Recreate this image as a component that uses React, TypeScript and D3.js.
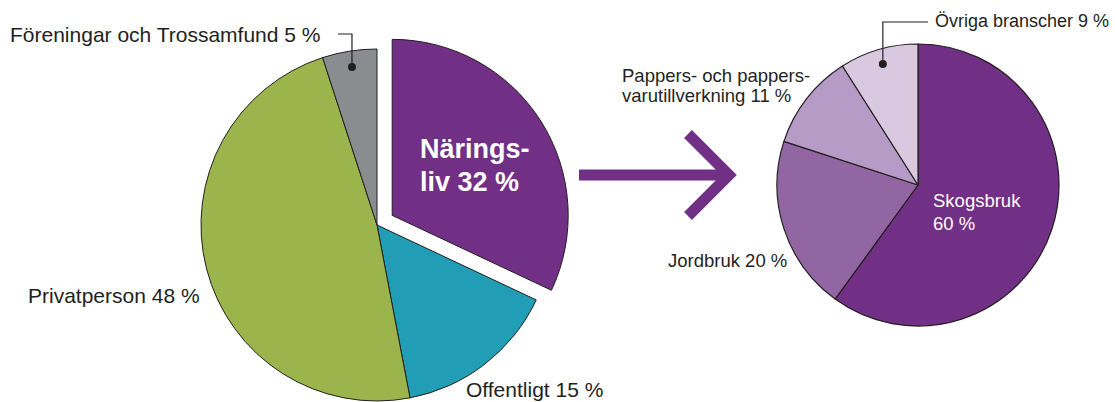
import React, { useEffect, useRef } from "react";
import * as d3 from "d3";

const width = 1115;
const height = 402;

// left pie: who owns the land
const ownerNames = ["Näringsliv", "Offentligt", "Privatperson", "Föreningar och Trossamfund"];
const ownerValues = [32, 15, 48, 5];
const ownerColors = ["#722f86", "#219db6", "#9bb44b", "#8b8c8f"];

// right pie: breakdown of Näringsliv
const branchNames = ["Skogsbruk", "Jordbruk", "Pappers- och pappersvarutillverkning", "Övriga branscher"];
const branchValues = [60, 20, 11, 9];
const branchColors = ["#722f86", "#9166a2", "#b59bc6", "#d8c9e0"];

const font = "'Liberation Sans', Arial, sans-serif";
const textColor = "#231f20";

export default function App() {
  const ref = useRef<SVGSVGElement>(null);

  useEffect(() => {
    const svg = d3.select(ref.current);
    svg.selectAll("*").remove();

    const pie = d3.pie<number>().sort(null).value(d => d);

    // ---- left pie
    const lc = { x: 377, y: 225 };
    const lr = 176;
    const left = svg.append("g").attr("transform", `translate(${lc.x},${lc.y})`);
    const lArcs = pie(ownerValues);
    const lArc = d3.arc<d3.PieArcDatum<number>>().innerRadius(0).outerRadius(lr);
    const explode = 18;

    left.selectAll("path")
      .data(lArcs)
      .join("path")
      .attr("d", lArc)
      .attr("fill", (d, i) => ownerColors[i])
      .attr("stroke", textColor)
      .attr("stroke-width", 1)
      .attr("stroke-linejoin", "round")
      .attr("transform", (d, i) => {
        if (i !== 0) return null;
        const a = (d.startAngle + d.endAngle) / 2;
        return `translate(${explode * Math.sin(a)},${-explode * Math.cos(a)})`;
      });

    // white label in exploded slice
    svg.append("text")
      .attr("x", 420).attr("y", 158)
      .attr("fill", "#fff")
      .style("font", `bold 27px ${font}`)
      .text("Närings-");
    svg.append("text")
      .attr("x", 420).attr("y", 191)
      .attr("fill", "#fff")
      .style("font", `bold 27px ${font}`)
      .text(`liv ${ownerValues[0]} %`);

    svg.append("text")
      .attr("x", 28).attr("y", 303)
      .attr("fill", textColor)
      .style("font", `21px ${font}`)
      .text(`${ownerNames[2]} ${ownerValues[2]} %`);

    svg.append("text")
      .attr("x", 466).attr("y", 397)
      .attr("fill", textColor)
      .style("font", `21px ${font}`)
      .text(`${ownerNames[1]} ${ownerValues[1]} %`);

    svg.append("text")
      .attr("x", 10).attr("y", 42)
      .attr("fill", textColor)
      .style("font", `21px ${font}`)
      .text(`${ownerNames[3]} ${ownerValues[3]} %`);

    // leader for the small grey slice
    const dotArc = d3.arc<d3.PieArcDatum<number>>().innerRadius(160).outerRadius(160);
    const [gx, gy] = dotArc.centroid(lArcs[3]);
    const gdx = lc.x + gx, gdy = lc.y + gy;
    svg.append("path")
      .attr("d", `M338,34H${gdx}V${gdy}`)
      .attr("fill", "none")
      .attr("stroke", textColor)
      .attr("stroke-width", 1.2);
    svg.append("circle").attr("cx", gdx).attr("cy", gdy).attr("r", 4).attr("fill", textColor);

    // ---- arrow
    const arrow = svg.append("g")
      .attr("fill", "none")
      .attr("stroke", "#722f86")
      .attr("stroke-width", 11);
    arrow.append("line").attr("x1", 579).attr("y1", 175).attr("x2", 728).attr("y2", 175);
    arrow.append("path")
      .attr("d", "M688,134L729,175L688,216")
      .attr("stroke-linejoin", "miter");

    // ---- right pie
    const rc = { x: 918, y: 185 };
    const rr = 141;
    const right = svg.append("g").attr("transform", `translate(${rc.x},${rc.y})`);
    const rArcs = pie(branchValues);
    const rArc = d3.arc<d3.PieArcDatum<number>>().innerRadius(0).outerRadius(rr);

    right.selectAll("path")
      .data(rArcs)
      .join("path")
      .attr("d", rArc)
      .attr("fill", (d, i) => branchColors[i])
      .attr("stroke", textColor)
      .attr("stroke-width", 1.2)
      .attr("stroke-linejoin", "round");

    const small = `18.5px ${font}`;

    svg.append("text")
      .attr("x", 933).attr("y", 207)
      .attr("fill", "#fff")
      .style("font", small)
      .text(branchNames[0]);
    svg.append("text")
      .attr("x", 933).attr("y", 230)
      .attr("fill", "#fff")
      .style("font", small)
      .text(`${branchValues[0]} %`);

    svg.append("text")
      .attr("x", 668).attr("y", 267)
      .attr("fill", textColor)
      .style("font", small)
      .text(`${branchNames[1]} ${branchValues[1]} %`);

    svg.append("text")
      .attr("x", 622).attr("y", 82)
      .attr("fill", textColor)
      .style("font", small)
      .text("Pappers- och pappers-");
    svg.append("text")
      .attr("x", 622).attr("y", 102)
      .attr("fill", textColor)
      .style("font", small)
      .text(`varutillverkning ${branchValues[2]} %`);

    svg.append("text")
      .attr("x", 935).attr("y", 27)
      .attr("fill", textColor)
      .style("font", `18px ${font}`)
      .text(`${branchNames[3]} ${branchValues[3]} %`);

    const rDot = d3.arc<d3.PieArcDatum<number>>().innerRadius(126).outerRadius(126);
    const [ox, oy] = rDot.centroid(rArcs[3]);
    const odx = rc.x + ox, ody = rc.y + oy;
    svg.append("path")
      .attr("d", `M928,22H${odx}V${ody}`)
      .attr("fill", "none")
      .attr("stroke", textColor)
      .attr("stroke-width", 1.2);
    svg.append("circle").attr("cx", odx).attr("cy", ody).attr("r", 4).attr("fill", textColor);
  }, []);

  return (
    <svg
      ref={ref}
      width={width}
      height={height}
      style={{ position: "absolute", left: 0, top: 0, background: "#fff" }}
    />
  );
}
